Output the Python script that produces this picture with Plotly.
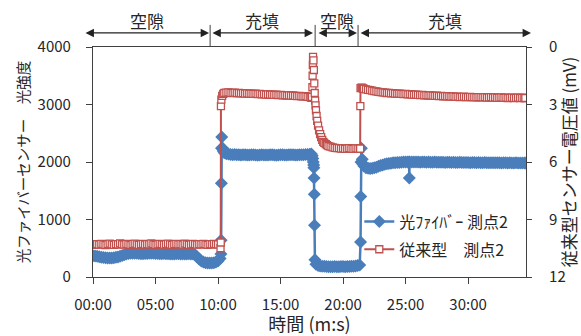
import plotly.graph_objects as go

# ---- data: time in seconds ----
# 光ファイバー 測点2 (left axis, light intensity)
t_fiber = [
    0, 10, 20, 30, 40, 50, 60, 70, 80, 90, 100, 110, 120, 130, 140, 150, 160, 170, 180, 190,
    200, 210, 220, 230, 240, 250, 260, 270, 280, 290, 300, 310, 320, 330, 340, 350, 360, 370, 380, 390,
    400, 410, 420, 430, 440, 450, 460, 470, 480, 490, 500, 510, 520, 530, 540, 550, 560, 570, 580, 590,
    600, 610,
    614, 615, 616, 617, 618, 620, 625, 630,
    640, 650, 660, 670, 680, 690, 700, 710, 720, 730, 740, 750, 760, 770, 780, 790, 800, 810, 820, 830,
    840, 850, 860, 870, 880, 890, 900, 910, 920, 930, 940, 950, 960, 970, 980, 990, 1000, 1010, 1020, 1030,
    1040,
    1048, 1052, 1055, 1057, 1059, 1060, 1061, 1062, 1063, 1065,
    1070, 1080, 1090, 1100, 1110, 1120, 1130, 1140, 1150, 1160, 1170, 1180, 1190, 1200, 1210, 1220, 1230, 1240,
    1250, 1260, 1270, 1280,
    1284, 1285, 1286, 1288, 1292, 1296, 1300,
    1310, 1320, 1330, 1340, 1350, 1360, 1370, 1380, 1390, 1400, 1410, 1420, 1430, 1440, 1450, 1460, 1470, 1480,
    1490, 1500, 1510,
    1517, 1518, 1519,
    1530, 1540, 1550, 1560, 1570, 1580, 1590, 1600, 1610, 1620, 1630, 1640, 1650, 1660, 1670, 1680, 1690, 1700,
    1710, 1720, 1730, 1740, 1750, 1760, 1770, 1780, 1790, 1800, 1810, 1820, 1830, 1840, 1850, 1860, 1870, 1880,
    1890, 1900, 1910, 1920, 1930, 1940, 1950, 1960, 1970, 1980, 1990, 2000, 2010, 2020, 2030, 2040, 2050, 2060,
    2070, 2075]
v_fiber = [
    370, 365, 360, 352, 345, 340, 335, 332, 330, 332, 335, 342, 350, 362, 375, 388, 400, 408, 412, 414,
    415, 412, 410, 406, 405, 407, 408, 411, 412, 411, 410, 407, 405, 406, 408, 406, 404, 402, 400, 402,
    404, 403, 402, 401, 400, 402, 403, 402, 400, 385, 350, 310, 280, 262, 250, 245, 242, 243, 250, 262,
    280, 320,
    400, 640, 1630, 2240, 2435, 2250, 2190, 2160,
    2145, 2138, 2132, 2128, 2130, 2125, 2127, 2122, 2125, 2128, 2123, 2120, 2124, 2126, 2122, 2118, 2121, 2125, 2123, 2120,
    2122, 2126, 2124, 2121, 2119, 2123, 2127, 2124, 2120, 2122, 2125, 2128, 2124, 2121, 2123, 2126, 2128, 2125, 2130, 2132,
    2135,
    2140, 2110, 2060, 2000, 1950, 1900, 1720, 1440, 900, 300,
    220, 200, 192, 188, 185, 182, 180, 178, 180, 182, 178, 180, 183, 181, 179, 182, 184, 186,
    188, 192, 198, 210,
    610, 1400, 2000, 2240, 2050, 1960, 1930,
    1900, 1890, 1888, 1892, 1900, 1910, 1925, 1940, 1950, 1960, 1968, 1975, 1980, 1985, 1988, 1990, 1992, 1995,
    1998, 2000, 2000,
    2000, 1720, 1998,
    2000, 1998, 2001, 1999, 1997, 2000, 1998, 1996, 1999, 1997, 1995, 1998, 1996, 1994, 1997, 1995, 1993, 1996,
    1994, 1992, 1995, 1993, 1991, 1994, 1992, 1990, 1993, 1991, 1989, 1992, 1990, 1988, 1991, 1989, 1987, 1990,
    1988, 1986, 1989, 1987, 1985, 1988, 1986, 1984, 1987, 1985, 1983, 1986, 1984, 1982, 1985, 1983, 1981, 1984,
    1982, 1982]

# 従来型 測点2 (right axis, voltage in mV)
t_conv = [
    0, 10, 20, 30, 40, 50, 60, 70, 80, 90, 100, 110, 120, 130, 140, 150, 160, 170, 180, 190,
    200, 210, 220, 230, 240, 250, 260, 270, 280, 290, 300, 310, 320, 330, 340, 350, 360, 370, 380, 390,
    400, 410, 420, 430, 440, 450, 460, 470, 480, 490, 500, 510, 520, 530, 540, 550, 560, 570, 580, 590,
    600,
    612, 613, 614, 616, 620, 625, 630,
    640, 650, 660, 670, 680, 690, 700, 710, 720, 730, 740, 750, 760, 770, 780, 790, 800, 810, 820, 830,
    840, 850, 860, 870, 880, 890, 900, 910, 920, 930, 940, 950, 960, 970, 980, 990, 1000, 1010, 1020, 1030,
    1040,
    1048, 1051, 1053, 1054, 1055, 1056, 1058, 1060, 1062, 1064, 1066, 1068, 1070, 1073, 1076, 1080, 1085, 1090,
    1095, 1100, 1105, 1110, 1117, 1123, 1130, 1140, 1150, 1160, 1170, 1180,
    1190, 1200, 1210, 1220, 1230, 1240, 1250, 1260, 1270, 1280, 1282,
    1283, 1284, 1288, 1292, 1296, 1300,
    1310, 1320, 1330, 1340, 1350, 1360, 1370, 1380, 1390, 1400, 1410, 1420, 1430, 1440, 1450, 1460, 1470, 1480,
    1490, 1500, 1510, 1520, 1530, 1540, 1550, 1560, 1570, 1580, 1590, 1600, 1610, 1620, 1630, 1640, 1650, 1660,
    1670, 1680, 1690, 1700, 1710, 1720, 1730, 1740, 1750, 1760, 1770, 1780, 1790, 1800, 1810, 1820, 1830, 1840,
    1850, 1860, 1870, 1880, 1890, 1900, 1910, 1920, 1930, 1940, 1950, 1960, 1970, 1980, 1990, 2000, 2010, 2020,
    2030, 2040, 2050, 2060, 2070, 2075]
v_conv = [
    10.30, 10.32, 10.28, 10.31, 10.27, 10.30, 10.33, 10.29, 10.26, 10.30, 10.32, 10.28, 10.30, 10.25, 10.29, 10.31,
    10.27, 10.30, 10.33, 10.28, 10.26, 10.30, 10.32, 10.29, 10.27, 10.31, 10.28, 10.30, 10.25, 10.29, 10.32, 10.30,
    10.27, 10.29, 10.31, 10.28, 10.26, 10.30, 10.32, 10.29, 10.27, 10.30, 10.28, 10.31, 10.26, 10.29, 10.32, 10.30,
    10.27, 10.29, 10.31, 10.28, 10.30, 10.27, 10.29, 10.32, 10.28, 10.30, 10.27, 10.29,
    10.30,
    10.5, 10.2, 3.08, 2.75, 2.55, 2.45, 2.4,
    2.38, 2.37, 2.39, 2.40, 2.38, 2.41, 2.40, 2.42, 2.41, 2.43, 2.42, 2.44, 2.43, 2.45, 2.44, 2.46, 2.45, 2.47, 2.46, 2.48,
    2.47, 2.49, 2.48, 2.50, 2.49, 2.51, 2.50, 2.52, 2.51, 2.53, 2.52, 2.54, 2.53, 2.55, 2.56, 2.55, 2.57, 2.58, 2.57, 2.60,
    2.62,
    2.65, 2.6, 2.1, 1.5, 0.94, 0.52, 0.7, 1.2, 1.9, 2.4, 2.8, 3.05, 3.3, 3.6, 3.85, 4.1, 4.35, 4.55,
    4.7, 4.85, 4.95, 5.0, 5.07, 5.12, 5.17, 5.2, 5.24, 5.26, 5.28, 5.28,
    5.3, 5.29, 5.31, 5.3, 5.28, 5.3, 5.31, 5.29, 5.3, 5.3, 5.3,
    3.08, 2.15, 2.12, 2.14, 2.16, 2.18,
    2.21, 2.24, 2.25, 2.28, 2.30, 2.31, 2.34, 2.35, 2.37, 2.38, 2.40, 2.39, 2.42, 2.41, 2.43, 2.44, 2.43, 2.45,
    2.46, 2.45, 2.47, 2.46, 2.48, 2.49, 2.48, 2.50, 2.51, 2.50, 2.52, 2.51, 2.53, 2.52, 2.54, 2.55, 2.54, 2.56,
    2.55, 2.57, 2.56, 2.58, 2.57, 2.59, 2.58, 2.60, 2.59, 2.61, 2.60, 2.59, 2.62, 2.61, 2.60, 2.62, 2.61, 2.63,
    2.62, 2.61, 2.63, 2.62, 2.64, 2.63, 2.62, 2.64, 2.63, 2.65, 2.64, 2.63, 2.65, 2.64, 2.66, 2.65, 2.64, 2.66,
    2.65, 2.64, 2.66, 2.65, 2.66, 2.66]

x_tickvals = [0, 300, 600, 900, 1200, 1500, 1800]
x_ticktext = ["00:00", "05:00", "10:00", "15:00", "20:00", "25:00", "30:00"]
y2_tickvals = [0, 3, 6, 9, 12]

# phase bands above the plot (seconds)
phase_labels = ["空隙", "充填", "空隙", "充填"]
phase_start = [-43, 566, 1075, 1277]
phase_end = [557, 1056, 1267, 2102]
phase_dividers = [562, 1066, 1272]

assert len(t_fiber) == len(v_fiber), (len(t_fiber), len(v_fiber))
assert len(t_conv) == len(v_conv), (len(t_conv), len(v_conv))

FONT = "Noto Sans CJK JP"
TXT = "#262626"
AX = "#404040"
BLUE = "#4a7ebb"
RED = "#c0504d"

fig = go.Figure()
fig.add_trace(go.Scatter(
    x=t_fiber, y=v_fiber, name="光ﾌｧｲﾊﾞｰ 測点2", mode="lines+markers", legendgroup="a",
    line=dict(color=BLUE, width=2.5),
    marker=dict(symbol="diamond", size=10, color=BLUE),
    yaxis="y"))
fig.add_trace(go.Scatter(
    x=t_conv, y=v_conv, name="従来型　測点2", mode="lines+markers", legendgroup="b",
    line=dict(color=RED, width=2),
    marker=dict(symbol="square", size=7, color="white", line=dict(color=RED, width=1.3)),
    yaxis="y2"))

fig.update_layout(
    width=581, height=336,
    margin=dict(l=93, r=55, t=47, b=59),
    paper_bgcolor="white", plot_bgcolor="white",
    font=dict(family=FONT, size=15, color=TXT),
    showlegend=True,
    legend=dict(x=0.615, y=0.315, xanchor="left", yanchor="top",
                bgcolor="rgba(0,0,0,0)", font=dict(size=16, color=TXT),
                tracegroupgap=4, itemwidth=30),
    xaxis=dict(range=[0, 2078], tickvals=x_tickvals, ticktext=x_ticktext, automargin=False,
               showline=True, linecolor=AX, linewidth=1.2, mirror=True,
               ticks="outside", ticklen=6, tickcolor=AX, showgrid=False, zeroline=False,
               ticklabelstandoff=8,
               title=dict(text="時間 (m:s)", font=dict(size=18), standoff=8)),
    yaxis=dict(range=[0, 4000], dtick=1000, showline=True, linecolor=AX, linewidth=1.2, automargin=False,
               ticks="outside", ticklen=6, tickcolor=AX, showgrid=False, zeroline=False,
               ticklabelstandoff=12,
               title=dict(text="光ファイバーセンサー　光強度", font=dict(size=14.5), standoff=4)),
    yaxis2=dict(range=[12, 0], tickvals=y2_tickvals, overlaying="y", side="right", automargin=False,
                showline=True, linecolor=AX, linewidth=1.2,
                ticks="outside", ticklen=5, tickcolor=AX, showgrid=False, zeroline=False,
                ticklabelstandoff=14,
                title=dict(text="従来型センサー電圧値 (mV)", font=dict(size=17), standoff=16)),
    yaxis3=dict(range=[0, 4000], dtick=1000, overlaying="y", side="left", matches="y", automargin=False,
                ticks="inside", ticklen=5, tickcolor=AX, showticklabels=False,
                showline=False, showgrid=False, zeroline=False),
    yaxis4=dict(range=[12, 0], tickvals=y2_tickvals, overlaying="y", side="right", automargin=False,
                ticks="inside", ticklen=4, tickcolor=AX, showticklabels=False,
                showline=False, showgrid=False, zeroline=False),
)

# phase arrows and labels
ann = []
for lab, s, e in zip(phase_labels, phase_start, phase_end):
    ann.append(dict(x=e, y=1.061, xref="x", yref="paper", ax=s, ay=0, axref="x", ayref="pixel",
                    text="", showarrow=True, arrowhead=2, startarrowhead=2, arrowside="end+start",
                    arrowsize=1.4, startarrowsize=1.4, arrowwidth=1.2, arrowcolor="#222"))
    ann.append(dict(x=(s + e) / 2, y=1.117, xref="x", yref="paper", text=lab, showarrow=False,
                    font=dict(size=17, color=TXT), yanchor="middle"))
fig.update_layout(annotations=ann)

shapes = []
for d in phase_dividers:
    shapes.append(dict(type="line", xref="x", yref="paper", x0=d, x1=d, y0=1.0, y1=1.096,
                       line=dict(color=AX, width=1)))
fig.update_layout(shapes=shapes)

fig.write_html("out.html", config={"displayModeBar": False},
               post_script="document.body.style.margin='0px';document.body.style.overflow='hidden';")
